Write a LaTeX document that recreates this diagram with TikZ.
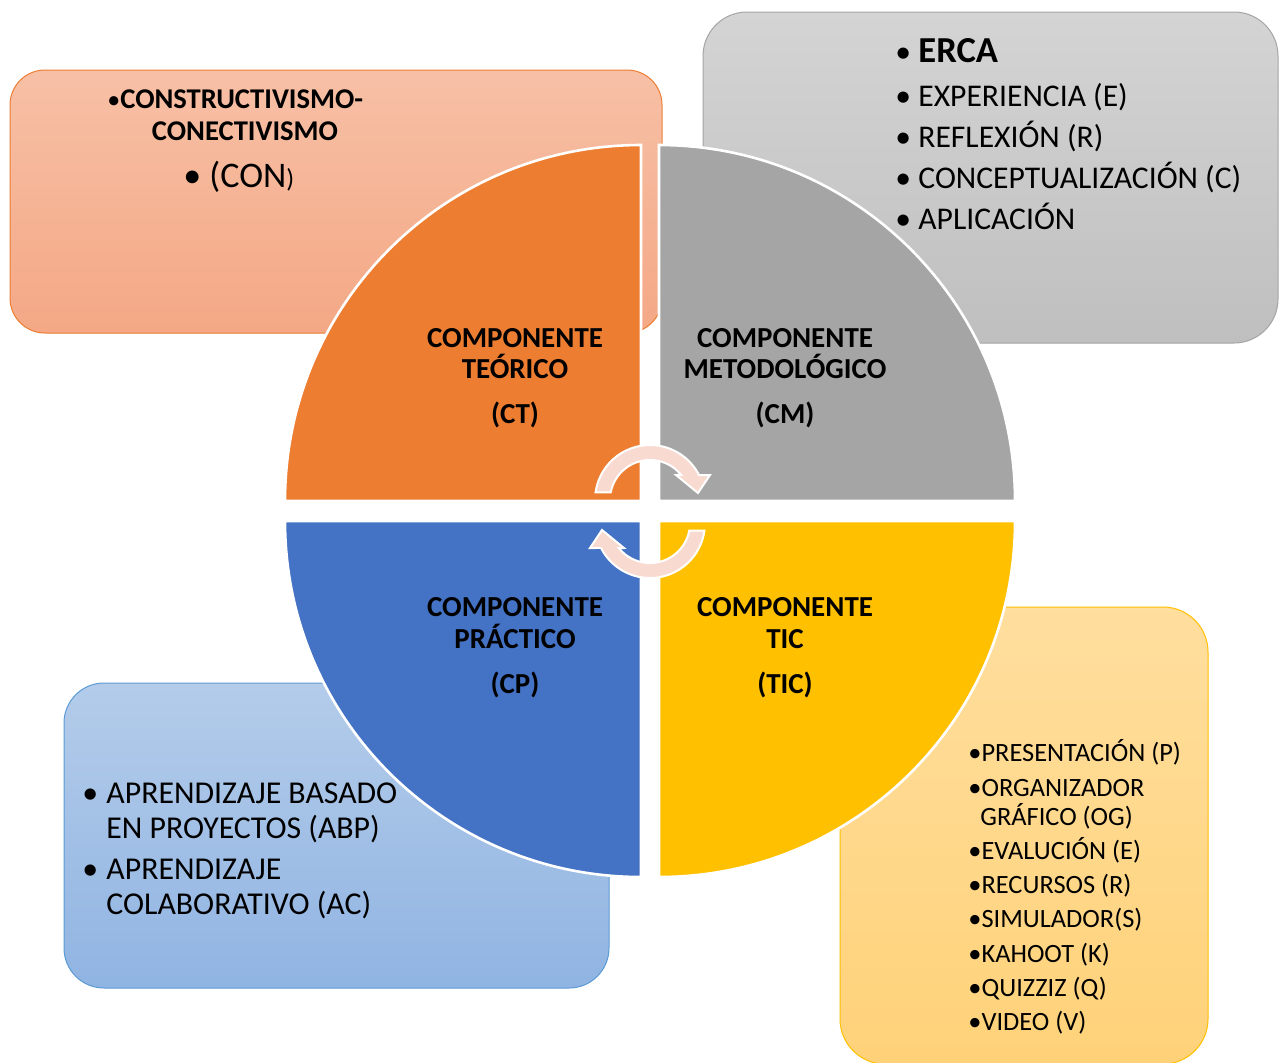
\documentclass[tikz,border=0pt]{standalone}
\usepackage{fontspec}
\setmainfont{Carlito}
\definecolor{pieO}{HTML}{ED7D31}
\definecolor{pieG}{HTML}{A5A5A5}
\definecolor{pieB}{HTML}{4472C4}
\definecolor{pieY}{HTML}{FFC000}
\definecolor{boxOt}{HTML}{F7C0A6}
\definecolor{boxOb}{HTML}{F4A885}
\definecolor{boxGt}{HTML}{D4D4D4}
\definecolor{boxGb}{HTML}{BFBFBF}
\definecolor{boxBt}{HTML}{B4CCEA}
\definecolor{boxBb}{HTML}{90B4E2}
\definecolor{boxYt}{HTML}{FFDE9E}
\definecolor{boxYb}{HTML}{FFD279}
\definecolor{boxBd}{HTML}{5B9BD5}
\definecolor{arrowpink}{HTML}{F8DAD0}
\tikzset{
  infobox/.style={line width=0.5pt},
  pie/.style={draw=white, line width=1.3pt},
  cyclearrow/.style={fill=arrowpink, draw=white, line width=1pt, line join=miter},
  lbl/.style={font=\fontsize{14.5}{17}\selectfont\bfseries, anchor=base, inner sep=0pt},
  itemG/.style={font=\fontsize{15.8}{19}\selectfont, anchor=base west, inner sep=0pt},
  itemB/.style={font=\fontsize{15.9}{19}\selectfont, anchor=base west, inner sep=0pt},
  itemY/.style={font=\fontsize{13.2}{16}\selectfont, anchor=base west, inner sep=0pt},
  itemO/.style={font=\fontsize{14.3}{17}\selectfont\bfseries, inner sep=0pt},
}
\begin{document}
\begin{tikzpicture}[x=0.5pt,y=-0.5pt]
\useasboundingbox (0,0) rectangle (1284,1062);
\fill[white] (0,0) rectangle (1284,1062);
\begin{scope}
\clip (0,0) rectangle (1284,1062);
% background boxes
\draw[infobox, draw=pieO, rounded corners=17.5pt, top color=boxOt, bottom color=boxOb] (10,70) rectangle (662,333);
\draw[infobox, draw=pieG, rounded corners=22pt, top color=boxGt, bottom color=boxGb] (703,12) rectangle (1278,343);
\draw[infobox, draw=boxBd, rounded corners=20pt, top color=boxBt, bottom color=boxBb] (64,683) rectangle (609,988);
\draw[infobox, draw=pieY, rounded corners=22.5pt, top color=boxYt, bottom color=boxYb] (840,607) rectangle (1208,1064);
\end{scope}
% quadrants
\draw[pie, fill=pieO] (641,501) -- (641,145) arc[start angle=270, end angle=180, radius=356] -- cycle;
\draw[pie, fill=pieG] (659,501) -- (659,145) arc[start angle=270, end angle=360, radius=356] -- cycle;
\draw[pie, fill=pieB] (641,521) -- (285,521) arc[start angle=180, end angle=90, radius=356] -- cycle;
\draw[pie, fill=pieY] (659,521) -- (1015,521) arc[start angle=0, end angle=90, radius=356] -- cycle;
% cycle arrows
\draw[cyclearrow] ([shift={(650,500)}]188:55) arc[start angle=188, end angle=333, radius=55]
  -- (710,475) -- (698,493) -- (676,475) -- ([shift={(650,500)}]321:40)
  arc[start angle=321, end angle=191, radius=40] -- cycle;
\draw[cyclearrow] ([shift={(650,523)}]8:55) arc[start angle=8, end angle=153, radius=55]
  -- (590,548) -- (602,530) -- (624,548) -- ([shift={(650,523)}]141:40)
  arc[start angle=141, end angle=11, radius=40] -- cycle;
% quadrant labels
\node[lbl] (ct1) at (515,347) {COMPONENTE};
\node[lbl] (ct2) at (515,378) {TEÓRICO};
\node[lbl] (ct3) at (515,423) {(CT)};
\node[lbl] (cm1) at (785,347) {COMPONENTE};
\node[lbl] (cm2) at (785,378) {METODOLÓGICO};
\node[lbl] (cm3) at (785,423) {(CM)};
\node[lbl] (cp1) at (515,616) {COMPONENTE};
\node[lbl] (cp2) at (515,648) {PRÁCTICO};
\node[lbl] (cp3) at (515,693) {(CP)};
\node[lbl] (tic1) at (785,616) {COMPONENTE};
\node[lbl] (tic2) at (785,648) {TIC};
\node[lbl] (tic3) at (785,693) {(TIC)};
% orange box text
\node[itemO, anchor=base west] (o1) at (107,108) {{\mdseries\fontsize{13}{15}\selectfont •}CONSTRUCTIVISMO-};
\node[itemO, anchor=base] (o2) at (245,140) {CONECTIVISMO};
\node[inner sep=0pt, anchor=base west, font=\fontsize{18}{21}\selectfont] (o3) at (183,187) {• (CON{\fontsize{13}{15}\selectfont)}};
% gray box text
\node[itemG] (gb0) at (895,62) {•};
\node[itemG, font=\fontsize{18.3}{21}\selectfont\bfseries] (g0) at (918,62) {ERCA};
\node[itemG] (gb1) at (895,106) {•};
\node[itemG] (g1) at (918,106) {EXPERIENCIA (E)};
\node[itemG] (gb2) at (895,147) {•};
\node[itemG] (g2) at (918,147) {REFLEXIÓN (R)};
\node[itemG] (gb3) at (895,188) {•};
\node[itemG] (g3) at (918,188) {CONCEPTUALIZACIÓN (C)};
\node[itemG] (gb4) at (895,229) {•};
\node[itemG] (g4) at (918,229) {APLICACIÓN};
% blue box text
\node[itemB] (bb1) at (82,803) {•};
\node[itemB] (b1) at (106,803) {APRENDIZAJE BASADO};
\node[itemB] (b2) at (106,838) {EN PROYECTOS (ABP)};
\node[itemB] (bb2) at (82,879) {•};
\node[itemB] (b3) at (106,879) {APRENDIZAJE};
\node[itemB] (b4) at (106,914) {COLABORATIVO (AC)};
% yellow box text
\node[itemY] (y1) at (968,761) {•PRESENTACIÓN (P)};
\node[itemY] (y2) at (968,796) {•ORGANIZADOR};
\node[itemY] (y2b) at (980,825) {GRÁFICO (OG)};
\node[itemY] (y3) at (968,859) {•EVALUCIÓN (E)};
\node[itemY] (y4) at (968,893) {•RECURSOS (R)};
\node[itemY] (y5) at (968,927) {•SIMULADOR(S)};
\node[itemY] (y6) at (968,962) {•KAHOOT (K)};
\node[itemY] (y7) at (968,996) {•QUIZZIZ (Q)};
\node[itemY] (y8) at (968,1030) {•VIDEO (V)};
\end{tikzpicture}
\end{document}
